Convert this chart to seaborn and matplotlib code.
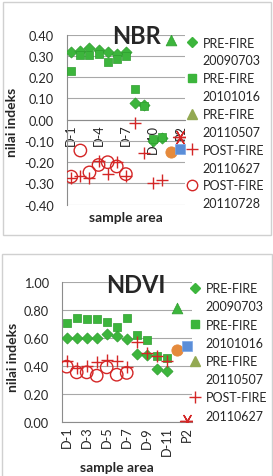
import matplotlib
matplotlib.use("Agg")
import matplotlib.pyplot as plt
import seaborn as sns
import pandas as pd
import numpy as np
from matplotlib.lines import Line2D
from matplotlib.patches import Rectangle

# ---------------- data ----------------
categories = [f"D-{i}" for i in range(1, 12)] + ["P1", "P2"]
d_sites = categories[:11]
circle_sites = categories[:7]

nbr_pre_20090703 = [0.317, 0.322, 0.339, 0.328, 0.317, 0.311, 0.317, 0.077, 0.069, -0.100, -0.085]
nbr_pre_20101016 = [0.227, 0.306, 0.303, 0.309, 0.270, 0.285, 0.301, 0.143, 0.066, -0.092, -0.080]
nbr_pre_20110507 = [0.375]
nbr_post_20110627 = [-0.276, -0.264, -0.272, -0.196, -0.256, -0.200, -0.264, -0.016, -0.157, -0.300, -0.284]
nbr_post_20110728 = [-0.268, -0.145, -0.248, -0.213, -0.200, -0.220, -0.256]
nbr_extra_p1 = [-0.151]
nbr_extra_p2_sq = [-0.138]
nbr_extra_p2_star = [-0.080]

ndvi_pre_20090703 = [0.600, 0.600, 0.598, 0.600, 0.628, 0.615, 0.596, 0.485, 0.478, 0.378, 0.366]
ndvi_pre_20101016 = [0.706, 0.744, 0.740, 0.740, 0.713, 0.680, 0.747, 0.620, 0.586, 0.474, 0.458]
ndvi_pre_20110507 = [0.816]
ndvi_post_20110627 = [0.433, 0.388, 0.400, 0.430, 0.445, 0.438, 0.390, 0.570, 0.490, 0.470, 0.433]
ndvi_post_20110728 = [0.395, 0.354, 0.354, 0.330, 0.390, 0.337, 0.350]
ndvi_extra_p1 = [0.514]
ndvi_extra_p2_sq = [0.545]
ndvi_extra_p2_star = [0.005]

legend_labels = [("PRE-FIRE", "20090703"), ("PRE-FIRE", "20101016"), ("PRE-FIRE", "20110507"),
                 ("POST-FIRE", "20110627"), ("POST-FIRE", "20110728")]

nbr_ticks = [-0.4, -0.3, -0.2, -0.1, 0.0, 0.1, 0.2, 0.3, 0.4]
ndvi_ticks = [0.0, 0.2, 0.4, 0.6, 0.8, 1.0]
nbr_xlabels_every = 3
ndvi_xlabels_every = 2

# ---------------- style ----------------
sns.set_style("white")
plt.rcParams["font.family"] = ["Lato", "DejaVu Sans"]

GREEN = "#3cb53c"
GREEN_E = "#2f9e2f"
OLIVE = "#93a952"
RED = "#d42626"
ORANGE = "#e58a3c"
BLUE = "#5b8ed8"
GRID = "#a8a8a8"
TICKFS = 9.2
LEGFS = 9.0
LABFS = 10.0

W, H = 273, 477
fig = plt.figure(figsize=(W / 100, H / 100), dpi=100)


def fx(px):
    return px / W


def fy(py):
    return 1 - py / H


# panel frames
fig.patches.append(Rectangle((fx(3), fy(236)), fx(268), (233) / H, transform=fig.transFigure,
                             fill=False, edgecolor="#d0d0d0", lw=1))
fig.patches.append(Rectangle((fx(2), fy(480)), fx(270), (225) / H, transform=fig.transFigure,
                             fill=False, edgecolor="#d0d0d0", lw=1))


def make_df(cats, vals):
    return pd.DataFrame({"pos": [categories.index(c) for c in cats], "value": vals})


def scatter(ax, cats, vals, **kw):
    sns.scatterplot(data=make_df(cats, vals), x="pos", y="value", ax=ax, legend=False, zorder=3, **kw)


def panel(ax, pre09, pre10, pre11, post0627, post0728, p1, p2sq, p2star, ticks, every, zero_axis):
    scatter(ax, d_sites, pre09, marker="D", color=GREEN, edgecolor=GREEN_E, linewidth=0.5, s=32)
    scatter(ax, d_sites, pre10, marker="s", color=GREEN, edgecolor=GREEN_E, linewidth=0.5, s=34)
    scatter(ax, ["P1"], pre11, marker="^", color=GREEN, edgecolor=GREEN_E, linewidth=0.5, s=60)
    scatter(ax, d_sites, post0627, marker="+", color=RED, linewidth=1.0, s=70)
    if post0728 is not None:
        scatter(ax, circle_sites, post0728, marker="o", facecolor="none", edgecolor=RED, linewidth=1.0, s=80)
    scatter(ax, ["P1"], p1, marker="o", color=ORANGE, edgecolor=ORANGE, s=65)
    scatter(ax, ["P2"], p2sq, marker="s", color=BLUE, edgecolor="#7aa6e6", linewidth=0.5, s=50)
    scatter(ax, ["P2"], p2star, marker=(6, 2, 90), color=RED, linewidth=1.0, s=100)

    ax.set_xlim(-0.5, len(categories) - 0.5)
    ax.set_ylim(ticks[0], ticks[-1])
    ax.set_yticks(ticks)
    ax.set_yticklabels([f"{t:.2f}" for t in ticks], fontsize=TICKFS)
    ax.yaxis.grid(True, color=GRID, lw=0.8)
    ax.set_axisbelow(True)
    for sp in ["top", "right"]:
        ax.spines[sp].set_visible(False)
    ax.spines["left"].set_color("#8c8c8c")
    ax.spines["bottom"].set_color("#8c8c8c")
    if zero_axis:
        ax.spines["bottom"].set_position(("data", 0))
    lab_pos = list(range(0, len(categories), every))
    ax.set_xticks(lab_pos)
    ax.set_xticklabels([categories[i] for i in lab_pos], rotation=90, fontsize=TICKFS)
    ax.set_xticks(np.arange(-0.5, len(categories), 1), minor=True)
    ax.tick_params(axis="x", which="major", length=0, pad=3)
    ax.tick_params(axis="x", which="minor", length=3.5, color="#8c8c8c")
    ax.tick_params(axis="y", length=4, color="#8c8c8c", pad=5)
    ax.set_xlabel("")
    ax.set_ylabel("")


def legend(ax, n, x_px, y_px, spacing):
    styles = [
        dict(marker="D", color=GREEN, markersize=5.5),
        dict(marker="s", color=GREEN, markersize=5.5),
        dict(marker="^", color=OLIVE, markersize=7),
        dict(marker="+", color=RED, markersize=8, markeredgewidth=1.0),
        dict(marker="o", markerfacecolor="none", markeredgecolor=RED, markersize=7.5, markeredgewidth=1.0),
    ]
    handles, labels = [], []
    for i in range(n):
        handles.append(Line2D([], [], linestyle="none", **styles[i]))
        labels.append(legend_labels[i][0])
        handles.append(Line2D([], [], linestyle="none"))
        labels.append(legend_labels[i][1])
    fig.legend(handles, labels, loc="upper left", bbox_to_anchor=(fx(x_px), fy(y_px)),
               bbox_transform=fig.transFigure, frameon=False, fontsize=LEGFS,
               handlelength=0.85, handletextpad=0.4, borderpad=0, borderaxespad=0,
               labelspacing=spacing)


# NBR panel
ax1 = fig.add_axes([fx(66.7), fy(205.7), fx(185 - 66.7), (205.7 - 35.7) / H])
panel(ax1, nbr_pre_20090703, nbr_pre_20101016, nbr_pre_20110507, nbr_post_20110627,
      nbr_post_20110728, nbr_extra_p1, nbr_extra_p2_sq, nbr_extra_p2_star, nbr_ticks,
      nbr_xlabels_every, True)
fig.text(fx(137), fy(44), "NBR", fontsize=17, fontweight="bold", ha="center", va="baseline")
fig.text(fx(12), fy(122), "nilai indeks", fontsize=LABFS, fontweight="bold", rotation=90,
         ha="center", va="center")
fig.text(fx(126), fy(218), "sample area", fontsize=LABFS, fontweight="bold", ha="center", va="center")
legend(ax1, 5, 187, 37.5, 0.47)

# NDVI panel
ax2 = fig.add_axes([fx(61.7), fy(422.7), fx(191.7 - 61.7), (422.7 - 283.3) / H])
panel(ax2, ndvi_pre_20090703, ndvi_pre_20101016, ndvi_pre_20110507, ndvi_post_20110627,
      ndvi_post_20110728, ndvi_extra_p1, ndvi_extra_p2_sq, ndvi_extra_p2_star, ndvi_ticks,
      ndvi_xlabels_every, False)
fig.text(fx(136), fy(293), "NDVI", fontsize=17, fontweight="bold", ha="center", va="baseline")
fig.text(fx(13), fy(357), "nilai indeks", fontsize=LABFS, fontweight="bold", rotation=90,
         ha="center", va="center")
fig.text(fx(117), fy(468), "sample area", fontsize=LABFS, fontweight="bold", ha="center", va="center")
legend(ax2, 4, 190, 283, 0.5)

fig.savefig("out.png", dpi=100)
